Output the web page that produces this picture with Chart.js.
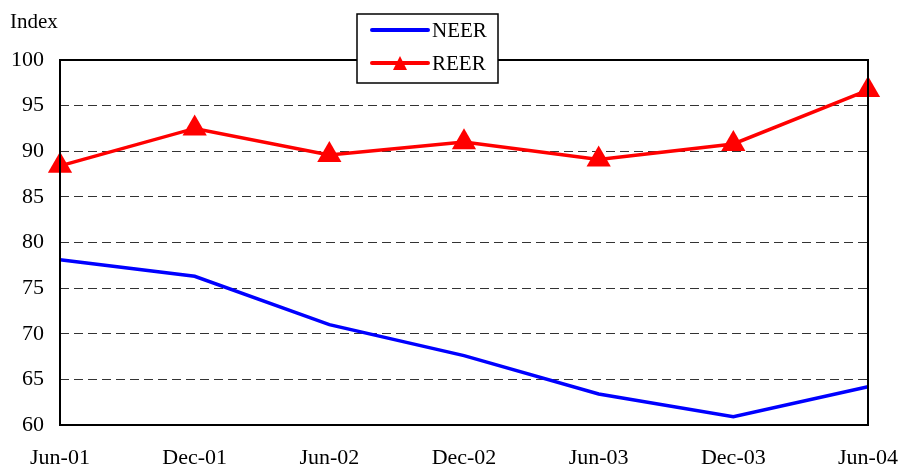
<!DOCTYPE html>
<html>
<head>
<meta charset="utf-8">
<title>NEER and REER</title>
<script src="https://cdn.jsdelivr.net/npm/chart.js"></script>
<style>
body{ margin:0; background:white; }
canvas{ display:block; }
</style>
</head>
<body>
<canvas id="chart" width="899" height="466"></canvas>
<script>
// -------- DATA --------
const labels = ['Jun-01', 'Dec-01', 'Jun-02', 'Dec-02', 'Jun-03', 'Dec-03', 'Jun-04'];
const neer = [78.1, 76.3, 71.0, 67.6, 63.4, 60.9, 64.2];
const reer = [88.4, 92.5, 89.6, 91.0, 89.1, 90.8, 96.7];
const yTicks = [60, 65, 70, 75, 80, 85, 90, 95, 100];

const FONT = 'Liberation Serif';

// box round plot area + "Index" text + legend
const extras = {
    id: 'extras',
    afterDraw(chart) {
        const ctx = chart.ctx;
        const a = chart.chartArea;
        ctx.save();
        ctx.strokeStyle = '#000';
        ctx.lineWidth = 2;
        ctx.strokeRect(a.left, a.top, a.right - a.left, a.bottom - a.top);

        ctx.fillStyle = '#000';
        ctx.font = '21px ' + FONT;
        ctx.textBaseline = 'middle';
        ctx.textAlign = 'left';
        ctx.fillText('Index', 10, 22);

        // legend
        const lx = 357, ly = 14, lw = 141, lh = 69;
        ctx.fillStyle = '#fff';
        ctx.fillRect(lx, ly, lw, lh);
        ctx.strokeStyle = '#000';
        ctx.lineWidth = 1.5;
        ctx.strokeRect(lx, ly, lw, lh);
        chart.data.datasets.forEach((ds, i) => {
            const y = ly + 16 + i * 33;
            ctx.strokeStyle = ds.borderColor;
            ctx.lineWidth = 4;
            ctx.lineCap = 'round';
            ctx.beginPath();
            ctx.moveTo(lx + 15, y);
            ctx.lineTo(lx + 71, y);
            ctx.stroke();
            if (ds.pointStyle === 'triangle') {
                ctx.fillStyle = ds.borderColor;
                ctx.beginPath();
                ctx.moveTo(lx + 43, y - 7);
                ctx.lineTo(lx + 50, y + 7);
                ctx.lineTo(lx + 36, y + 7);
                ctx.closePath();
                ctx.fill();
            }
            ctx.fillStyle = '#000';
            ctx.font = '21px ' + FONT;
            ctx.textAlign = 'left';
            ctx.fillText(ds.label, lx + 75, y + 1);
        });
        ctx.restore();
    }
};

new Chart(document.getElementById('chart'), {
    type: 'line',
    data: {
        labels: labels,
        datasets: [
            {
                label: 'NEER',
                data: neer,
                borderColor: '#0000ff',
                backgroundColor: '#0000ff',
                borderWidth: 3.5,
                pointRadius: 0,
                pointStyle: 'line',
                tension: 0
            },
            {
                label: 'REER',
                data: reer,
                borderColor: '#ff0000',
                backgroundColor: '#ff0000',
                borderWidth: 3.5,
                pointStyle: 'triangle',
                pointRadius: 14,
                pointHoverRadius: 14,
                pointBorderWidth: 0,
                tension: 0
            }
        ]
    },
    options: {
        responsive: false,
        animation: false,
        layout: { padding: { left: 0, right: 31, top: 60, bottom: 0 } },
        plugins: {
            legend: { display: false },
            tooltip: { enabled: false }
        },
        scales: {
            x: {
                offset: false,
                grid: { display: false },
                border: { display: false },
                ticks: {
                    color: '#000',
                    font: { family: FONT, size: 22 },
                    maxRotation: 0,
                    autoSkip: false,
                    padding: 12
                },
                afterFit(s) {
                    s.height = 41;
                    s.paddingLeft = 0;
                    s.paddingRight = 0;
                }
            },
            y: {
                min: 60,
                max: 100,
                afterBuildTicks(s) { s.ticks = yTicks.map(v => ({ value: v })); },
                grid: {
                    color: (c) => (c.tick && (c.tick.value === 60 || c.tick.value === 100)) ? 'rgba(0,0,0,0)' : '#333',
                    lineWidth: 1,
                    drawTicks: false
                },
                border: { display: false, dash: [9, 5] },
                ticks: {
                    color: '#000',
                    font: { family: FONT, size: 22 },
                    padding: 16
                },
                afterFit(s) { s.width = 60; }
            }
        }
    },
    plugins: [extras]
});
</script>
</body>
</html>
